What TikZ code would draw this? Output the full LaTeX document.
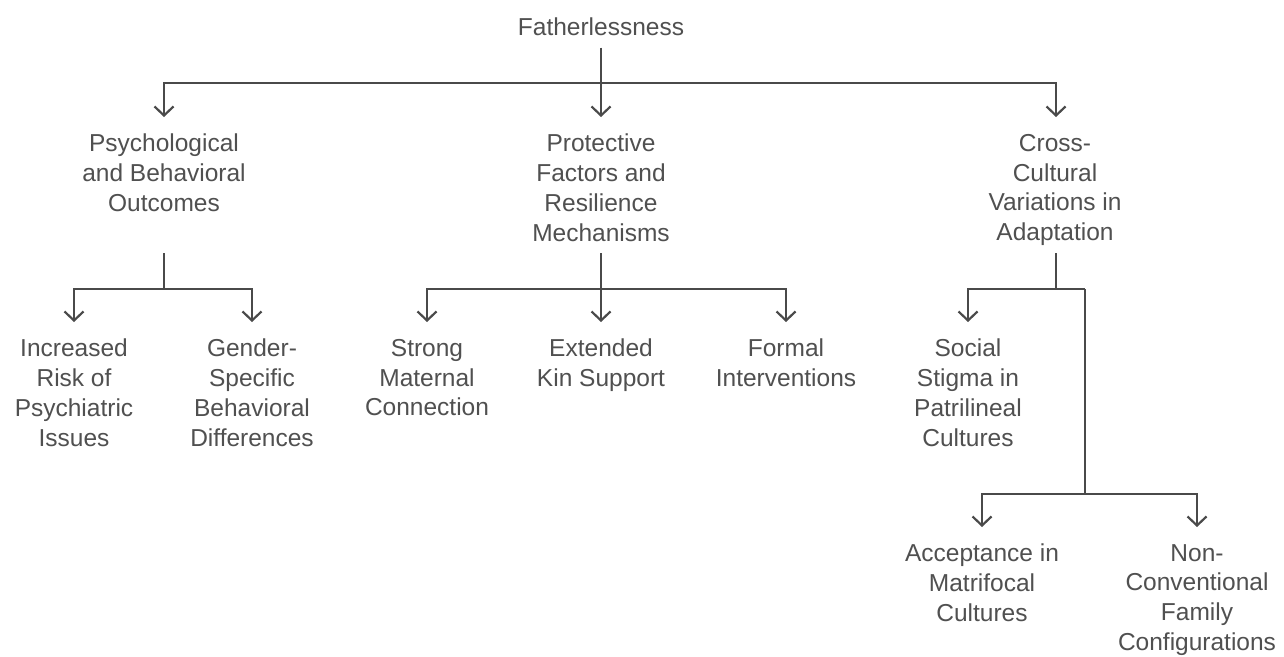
\documentclass[tikz,border=0pt]{standalone}
\usepackage{fontspec}
\setmainfont{Liberation Sans}
\usetikzlibrary{arrows.meta}
\definecolor{txt}{HTML}{505050}
\definecolor{ln}{HTML}{4A4A4A}
\tikzset{
  lbl/.style={font=\fontsize{24.5}{29.8}\selectfont, text=txt, align=center, inner xsep=0pt, inner ysep=17pt, anchor=north},
  conn/.style={draw=ln, line width=2.2pt},
  arr/.style={conn, -{Straight Barb[length=9pt,width=19pt,line width=2.2pt]}}
}
\begin{document}
\begin{tikzpicture}[x=1pt,y=-1pt]
\useasboundingbox[fill=white] (0,0) rectangle (1284,656);
% nodes
\node[lbl, anchor=center, inner ysep=11.5pt] (root) at (601,27) {Fatherlessness};
\node[lbl] (psych) at (164,117) {Psychological\\and Behavioral\\Outcomes};
\node[lbl] (prot) at (601,117) {Protective\\Factors and\\Resilience\\Mechanisms};
\node[lbl] (cross) at (1055,117) {Cross-\\Cultural\\Variations in\\Adaptation};
\node[lbl] (inc) at (74,322) {Increased\\Risk of\\Psychiatric\\Issues};
\node[lbl] (gen) at (252,322) {Gender-\\Specific\\Behavioral\\Differences};
\node[lbl] (strong) at (427,322) {Strong\\Maternal\\Connection};
\node[lbl] (ext) at (601,322) {Extended\\Kin Support};
\node[lbl] (formal) at (786,322) {Formal\\Interventions};
\node[lbl] (social) at (968,322) {Social\\Stigma in\\Patrilineal\\Cultures};
\node[lbl] (accept) at (982,527) {Acceptance in\\Matrifocal\\Cultures};
\node[lbl] (noncon) at (1197,527) {Non-\\Conventional\\Family\\Configurations};
% junctions
\coordinate (b0) at (601,83);
\coordinate (ps) at (164,253);
\coordinate (pb) at (164,289);
\coordinate (rs) at (601,253);
\coordinate (rb) at (601,289);
\coordinate (cs) at (1056,253);
\coordinate (cb) at (1056,289);
\coordinate (cc) at (1085,289);
\coordinate (cd) at (1085,494);
% connectors
\draw[arr] (root.south) -- (prot.north);
\draw[arr] (b0) -| (psych.north);
\draw[arr] (b0) -| ([xshift=1pt]cross.north);
\draw[conn] (ps) -- (pb);
\draw[arr] (pb) -| (inc.north);
\draw[arr] (pb) -| (gen.north);
\draw[arr] (rs) -- (ext.north);
\draw[arr] (rb) -| (strong.north);
\draw[arr] (rb) -| (formal.north);
\draw[conn] (cs) -- (cb) -- (cc);
\draw[arr] (cb) -| (social.north);
\draw[conn] (cc) -- (cd);
\draw[arr] (cd) -| (accept.north);
\draw[arr] (cd) -| (noncon.north);
\end{tikzpicture}
\end{document}
